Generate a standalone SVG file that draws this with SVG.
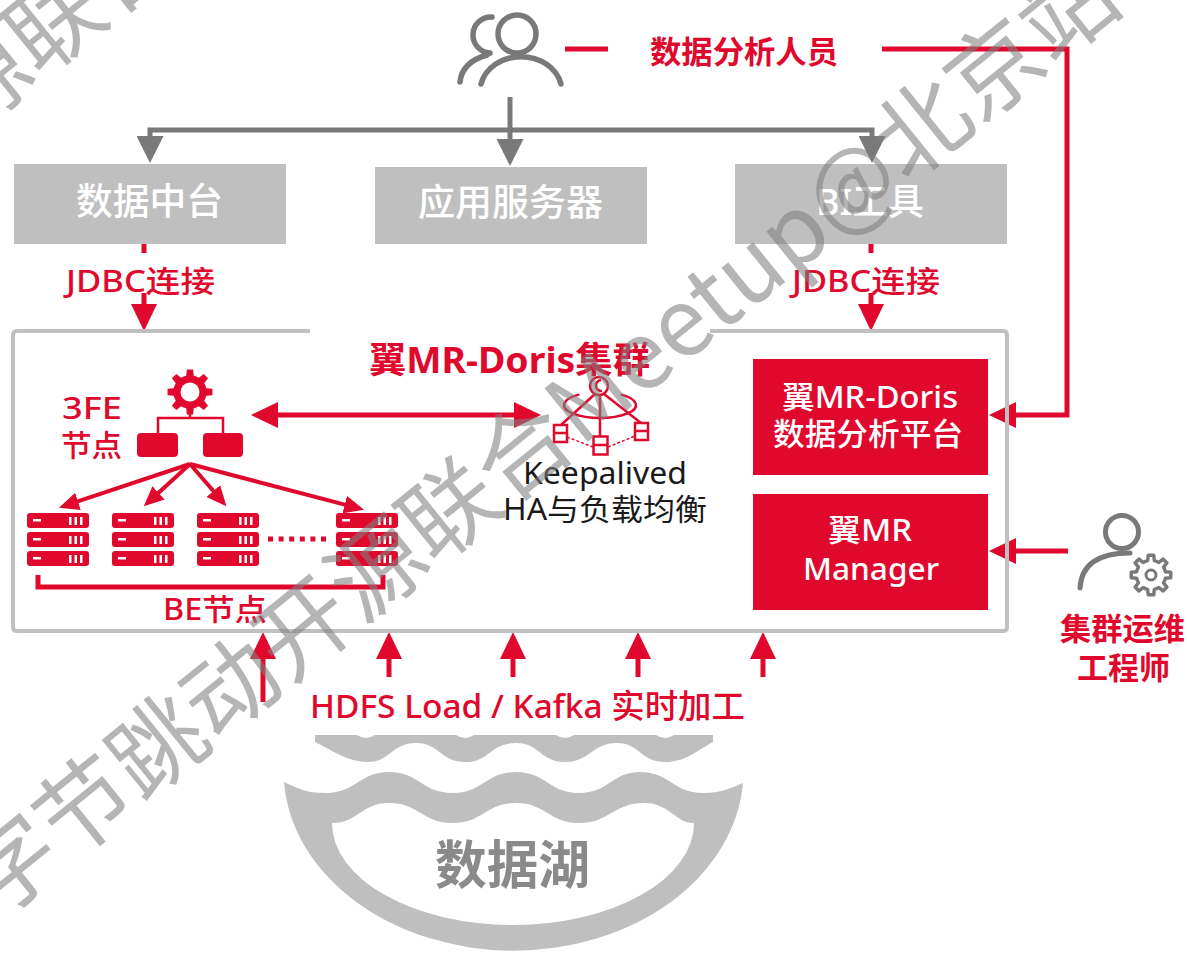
<svg xmlns="http://www.w3.org/2000/svg" width="1187" height="962" viewBox="0 0 1187 962">
  <style>
    .sans { font-family: "Noto Sans", "Liberation Sans", "Noto Sans CJK SC", sans-serif; }
    .cjk { font-family: "Noto Sans CJK SC", "Liberation Sans", sans-serif; }
    .red { fill: #e0082c; }
    .redS { stroke: #e0082c; fill: none; }
    .grayS { stroke: #797979; fill: none; }
    .box { fill: #bfbfbf; }
    .white { fill: #ffffff; }
    .b { font-weight: bold; }
    .m { font-weight: 500; }
    .wm { font-family: "Noto Sans CJK SC", sans-serif; font-size: 94px; fill: #808080; opacity: 0.58; }
  </style>
  <defs>
    <marker id="arR" markerUnits="userSpaceOnUse" markerWidth="27" markerHeight="26" refX="1" refY="13" orient="auto-start-reverse">
      <path d="M0,0 L27,13 L0,26 Z" fill="#e0082c"/>
    </marker>
    <marker id="arRs" markerUnits="userSpaceOnUse" markerWidth="20" markerHeight="18" refX="1" refY="9" orient="auto">
      <path d="M0,0 L20,9 L0,18 Z" fill="#e0082c"/>
    </marker>
    <marker id="arG" markerUnits="userSpaceOnUse" markerWidth="27" markerHeight="27" refX="1" refY="13.5" orient="auto-start-reverse">
      <path d="M0,0 L27,13.5 L0,27 Z" fill="#797979"/>
    </marker>
    <!-- server rack: three stacked units -->
    <g id="rack">
      <g id="unit">
        <rect x="0" y="0" width="62" height="15" rx="3" fill="#e0082c"/>
        <rect x="6" y="6" width="8" height="2.5" fill="#fff"/>
        <rect x="42" y="4" width="2.5" height="8" fill="#fff"/>
        <rect x="47.5" y="4" width="2.5" height="8" fill="#fff"/>
        <rect x="53" y="4" width="2.5" height="8" fill="#fff"/>
      </g>
      <use href="#unit" y="19"/>
      <use href="#unit" y="38"/>
    </g>
    <!-- eight-tooth gear outline centred on 0,0 -->
    <path id="gear" d="M15.10,-3.49 L20.80,-2.92 L20.80,2.92 L15.10,3.49 A15.5,15.5 0 0 1 13.14,8.21 L16.77,12.64 L12.64,16.77 L8.21,13.14 A15.5,15.5 0 0 1 3.49,15.10 L2.92,20.80 L-2.92,20.80 L-3.49,15.10 A15.5,15.5 0 0 1 -8.21,13.14 L-12.64,16.77 L-16.77,12.64 L-13.14,8.21 A15.5,15.5 0 0 1 -15.10,3.49 L-20.80,2.92 L-20.80,-2.92 L-15.10,-3.49 A15.5,15.5 0 0 1 -13.14,-8.21 L-16.77,-12.64 L-12.64,-16.77 L-8.21,-13.14 A15.5,15.5 0 0 1 -3.49,-15.10 L-2.92,-20.80 L2.92,-20.80 L3.49,-15.10 A15.5,15.5 0 0 1 8.21,-13.14 L12.64,-16.77 L16.77,-12.64 L13.14,-8.21 A15.5,15.5 0 0 1 15.10,-3.49 Z"/>
  </defs>

  <!-- connectors -->
  <g id="connectors">
    <!-- analyst to the three upper systems -->
    <path class="grayS" stroke-width="5" d="M150,137 V130 H872 V137" marker-start="url(#arG)" marker-end="url(#arG)"/>
    <line class="grayS" stroke-width="5" x1="510" y1="97" x2="510" y2="140" marker-end="url(#arG)"/>
    <!-- JDBC links -->
    <line class="redS" stroke-width="5" x1="144" y1="244" x2="144" y2="253"/>
    <line class="redS" stroke-width="5" x1="144" y1="293" x2="144" y2="305" marker-end="url(#arR)"/>
    <line class="redS" stroke-width="5" x1="871" y1="244" x2="871" y2="253"/>
    <line class="redS" stroke-width="5" x1="871" y1="293" x2="871" y2="305" marker-end="url(#arR)"/>
    <!-- analyst to platform -->
    <line class="redS" stroke-width="5" x1="565" y1="49" x2="608" y2="49"/>
    <path class="redS" stroke-width="5" d="M882,49 H1067 V415 H1015" marker-end="url(#arR)"/>
    <!-- ops engineer to manager -->
    <line class="redS" stroke-width="5" x1="1068" y1="551" x2="1015" y2="551" marker-end="url(#arR)"/>
    <!-- FE <-> keepalived -->
    <line class="redS" stroke-width="5" x1="277" y1="415" x2="515" y2="415" marker-start="url(#arR)" marker-end="url(#arR)"/>
    <!-- FE fan-out to BE -->
    <g class="redS" stroke-width="4">
      <line x1="190" y1="464" x2="77" y2="501.7" marker-end="url(#arRs)"/>
      <line x1="190" y1="464" x2="157.8" y2="493.5" marker-end="url(#arRs)"/>
      <line x1="190" y1="464" x2="214" y2="491.8" marker-end="url(#arRs)"/>
      <line x1="190" y1="464" x2="345.7" y2="504.9" marker-end="url(#arRs)"/>
    </g>
    <!-- ingest from the lake -->
    <g class="redS" stroke-width="5">
      <line x1="263" y1="702" x2="263" y2="658" marker-end="url(#arR)"/>
      <line x1="389" y1="677" x2="389" y2="658" marker-end="url(#arR)"/>
      <line x1="513" y1="677" x2="513" y2="658" marker-end="url(#arR)"/>
      <line x1="638" y1="677" x2="638" y2="658" marker-end="url(#arR)"/>
      <line x1="763" y1="677" x2="763" y2="658" marker-end="url(#arR)"/>
    </g>
  </g>

  <!-- data analyst -->
  <g id="analyst">
    <g class="grayS" stroke-width="5.5" stroke-linecap="round">
      <circle cx="517" cy="34" r="19"/>
      <path d="M481,84 A41,35 0 0 1 561,84"/>
      <path d="M492,17 A18,18 0 0 0 490,53"/>
      <path d="M460,82 Q462,62 487,55"/>
    </g>
    <text class="cjk red b" x="650" y="63" font-size="31" textLength="188" lengthAdjust="spacingAndGlyphs">数据分析人员</text>
  </g>

  <g id="data-middle">
    <rect class="box" x="14" y="164" width="272" height="80"/>
    <text class="cjk white m" x="76" y="215" font-size="37" textLength="147" lengthAdjust="spacingAndGlyphs">数据中台</text>
  </g>
  <g id="app-server">
    <rect class="box" x="375" y="167" width="272" height="77"/>
    <text class="cjk white m" x="418" y="216" font-size="37" textLength="185" lengthAdjust="spacingAndGlyphs">应用服务器</text>
  </g>
  <g id="bi-tool">
    <rect class="box" x="735" y="164" width="272" height="80"/>
    <text class="sans white m" x="816" y="215" font-size="37" textLength="108" lengthAdjust="spacingAndGlyphs">BI工具</text>
  </g>

  <text class="sans red m" x="66" y="292" font-size="30" textLength="149" lengthAdjust="spacingAndGlyphs">JDBC连接</text>
  <text class="sans red m" x="792" y="292" font-size="30" textLength="148" lengthAdjust="spacingAndGlyphs">JDBC连接</text>

  <!-- cluster frame -->
  <g id="cluster">
    <path d="M310,331 H17 Q13,331 13,335 V627 Q13,631 17,631 H1003 Q1007,631 1007,627 V335 Q1007,331 1003,331 H710" fill="none" stroke="#c0c0c0" stroke-width="4"/>
    <text class="sans red b" x="369" y="373" font-size="36" textLength="281" lengthAdjust="spacingAndGlyphs">翼MR-Doris集群</text>
  </g>

  <!-- FE nodes -->
  <g id="fe">
    <use href="#gear" transform="translate(190,392) scale(1.08)" fill="#e0082c"/>
    <circle cx="190" cy="392" r="9.5" fill="#fff"/>
    <path class="redS" stroke-width="2.5" d="M190,412 V418 M158,433 V418 H223 V433"/>
    <rect x="137" y="433" width="41" height="24" rx="4" class="red"/>
    <rect x="203" y="433" width="40" height="24" rx="4" class="red"/>
    <text class="sans red m" x="62" y="419" font-size="30" textLength="60" lengthAdjust="spacingAndGlyphs">3FE</text>
    <text class="cjk red m" x="61" y="456" font-size="30" textLength="61" lengthAdjust="spacingAndGlyphs">节点</text>
  </g>

  <!-- BE nodes -->
  <g id="be">
    <use href="#rack" x="27" y="513"/>
    <use href="#rack" x="112" y="513"/>
    <use href="#rack" x="197" y="513"/>
    <use href="#rack" x="336" y="513"/>
    <line class="redS" stroke-width="5" x1="268" y1="539" x2="326" y2="539" stroke-dasharray="5 5.6"/>
    <path class="redS" stroke-width="5" d="M38,575 V587 H383 V575"/>
    <text class="sans red m" x="163" y="620" font-size="30" textLength="104" lengthAdjust="spacingAndGlyphs">BE节点</text>
  </g>

  <!-- Keepalived -->
  <g id="keepalived">
    <g class="redS" stroke-width="2.5">
      <circle cx="599" cy="386" r="9"/>
      <path d="M601,380 A5,5 0 1 0 602,391"/>
      <path d="M579.4,394.4 A36,13 0 1 0 620.6,394.4"/>
      <line x1="595" y1="394" x2="561" y2="425"/>
      <line x1="600" y1="395" x2="600" y2="436"/>
      <line x1="604" y1="394" x2="641" y2="423"/>
      <rect x="554" y="425" width="13" height="17" fill="#fff"/>
      <line x1="554" y1="433" x2="567" y2="433"/>
      <rect x="593.5" y="436.5" width="14" height="18" fill="#fff"/>
      <line x1="593.5" y1="445" x2="607.5" y2="445"/>
      <rect x="635" y="423" width="13" height="17" fill="#fff"/>
      <line x1="635" y1="431" x2="648" y2="431"/>
      <path d="M567,437 L593,447 M608,447 L635,436" stroke-width="1.5" stroke-dasharray="3 2"/>
    </g>
    <text class="sans" x="523" y="484" font-size="30" fill="#1a1a1a" textLength="164" lengthAdjust="spacingAndGlyphs">Keepalived</text>
    <text class="sans" x="503" y="520" font-size="30" fill="#1a1a1a" textLength="204" lengthAdjust="spacingAndGlyphs">HA与负载均衡</text>
  </g>

  <g id="platform">
    <rect x="753" y="359" width="235" height="116" class="red"/>
    <text class="sans white m" x="782" y="408" font-size="31" textLength="176" lengthAdjust="spacingAndGlyphs">翼MR-Doris</text>
    <text class="cjk white m" x="773" y="445" font-size="31" textLength="190" lengthAdjust="spacingAndGlyphs">数据分析平台</text>
  </g>
  <g id="manager">
    <rect x="753" y="494" width="235" height="116" class="red"/>
    <text class="sans white m" x="828" y="541" font-size="31" textLength="84" lengthAdjust="spacingAndGlyphs">翼MR</text>
    <text class="sans white m" x="803" y="580" font-size="31" textLength="136" lengthAdjust="spacingAndGlyphs">Manager</text>
  </g>

  <!-- ops engineer -->
  <g id="ops-engineer">
    <g class="grayS" stroke-width="5" stroke-linecap="round">
      <circle cx="1122" cy="532" r="16.5"/>
      <path d="M1080,588 Q1082,553 1130,553"/>
    </g>
    <use href="#gear" transform="translate(1151,575) scale(0.95)" fill="#fff" stroke="#797979" stroke-width="3.6" stroke-linejoin="round"/>
    <circle cx="1151" cy="575" r="5" fill="none" stroke="#797979" stroke-width="3"/>
    <text class="cjk red b" x="1060" y="640" font-size="31" textLength="125" lengthAdjust="spacingAndGlyphs">集群运维</text>
    <text class="cjk red b" x="1077" y="679" font-size="31" textLength="93" lengthAdjust="spacingAndGlyphs">工程师</text>
  </g>

  <text class="sans red m" x="310" y="718" font-size="33" textLength="435" lengthAdjust="spacingAndGlyphs">HDFS Load / Kafka 实时加工</text>

  <!-- data lake -->
  <g id="data-lake">
    <path fill="#bfbfbf" d="M315,735 L357,735 Q366,741 375,735 L456,735 Q465,741 474,735 L556,735 Q565,741 574,735 L656,735 Q665,741 674,735 L713,735 L713,742 C695,752 685,762 665,762 C640,762 640,743 617,743 C592,743 590,762 565,762 C540,762 540,743 516,743 C490,743 490,762 465,762 C440,762 440,743 416,743 C392,743 390,762 368,762 C348,762 335,752 315,742 Z"/>
    <path fill="#bfbfbf" fill-rule="evenodd" d="M284,782 C300,790 310,793 326,793 C356,793 359,772 389,772 C419,772 422,793 453,793 C483,793 486,772 516,772 C546,772 549,793 579,793 C609,793 612,772 640,772 C670,772 673,793 703,793 C720,793 732,788 743,783 A230,180 0 0 1 284,782 Z M332,823 C358,823 361,803 389,803 C419,803 422,823 453,823 C483,823 486,803 516,803 C546,803 549,823 579,823 C609,823 614,803 644,803 C670,803 675,823 694,823 A181,102 0 0 1 332,823 Z"/>
    <text class="cjk b" x="435" y="884" font-size="52" fill="#8a8a8a" textLength="155" lengthAdjust="spacingAndGlyphs">数据湖</text>
  </g>

  <!-- event watermark -->
  <g id="watermark">
    <text class="wm" transform="translate(-4,921) rotate(-39)">字节跳动开源联合Meetup@北京站</text>
    <text class="wm" transform="translate(-399,433) rotate(-39)">字节跳动开源联合Meetup@北京站</text>
  </g>
</svg>
